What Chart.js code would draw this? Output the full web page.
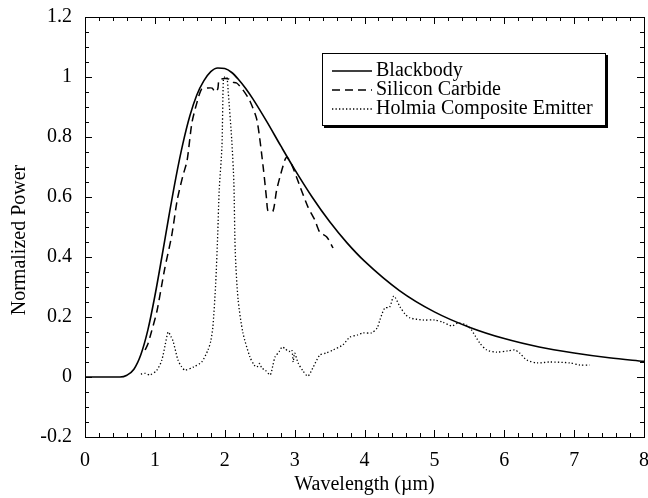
<!DOCTYPE html>
<html>
<head>
<meta charset="utf-8">
<title>Normalized Power</title>
<script src="https://cdn.jsdelivr.net/npm/chart.js@4.4.1/dist/chart.umd.min.js"></script>
<style>
  html, body { margin: 0; padding: 0; background: #fff; }
  #wrap { width: 648px; height: 498px; }
</style>
</head>
<body>
<div id="wrap"><canvas id="chart" width="648" height="498"></canvas></div>
<script>
// Spectra, wavelength in um, power normalized to the emitter peak
const bbWave = [0, 0.5, 0.6, 0.7, 0.8, 0.9, 1.0, 1.1, 1.2, 1.3, 1.4, 1.5, 1.6, 1.7, 1.8, 1.9, 2.0,
  2.1, 2.2, 2.3, 2.4, 2.6, 2.8, 3.0, 3.25, 3.5, 3.75, 4.0, 4.5, 5.0, 5.5, 6.0, 6.5, 7.0, 7.5, 8.0];
const bbPower = [0, 0, 0.006, 0.026, 0.075, 0.157, 0.27, 0.40, 0.535, 0.664, 0.777, 0.87, 0.94, 0.987, 1.018, 1.03, 1.028,
  1.015, 0.991, 0.962, 0.928, 0.852, 0.771, 0.692, 0.60, 0.518, 0.447, 0.386, 0.288, 0.217, 0.166, 0.128, 0.10, 0.080, 0.064, 0.052];

const sicWave = [0.86, 0.9, 0.95, 1.03, 1.14, 1.24, 1.32, 1.40, 1.46, 1.53, 1.60, 1.67, 1.75, 1.82, 1.86, 1.90, 1.92,
  2.0, 2.06, 2.10, 2.17, 2.26, 2.36, 2.46, 2.55, 2.60, 2.62, 2.69, 2.74, 2.79, 2.86, 2.89, 2.96, 3.08, 3.19, 3.29,
  3.36, 3.46, 3.55];
const sicPower = [0.09, 0.11, 0.15, 0.22, 0.36, 0.47, 0.59, 0.67, 0.72, 0.847, 0.913, 0.96, 0.963, 0.963, 0.95, 0.96, 0.99,
  0.995, 0.993, 0.983, 0.98, 0.957, 0.92, 0.857, 0.70, 0.59, 0.553, 0.553, 0.62, 0.667, 0.723, 0.733, 0.707, 0.633, 0.567, 0.523,
  0.483, 0.467, 0.43];

const hoWave = [0.80, 0.86, 0.93, 1.03, 1.10, 1.15, 1.19, 1.23, 1.26, 1.33, 1.38, 1.43, 1.55, 1.67, 1.76, 1.80, 1.83,
  1.87, 1.90, 1.92, 1.96, 1.98, 2.00, 2.03, 2.05, 2.10, 2.13, 2.15, 2.19, 2.26, 2.36, 2.42, 2.46, 2.50, 2.53, 2.58,
  2.65, 2.69, 2.72, 2.78, 2.82, 2.86, 2.92, 2.96, 2.98, 3.00, 3.05, 3.12, 3.19, 3.26, 3.36, 3.45, 3.55, 3.69, 3.79,
  3.90, 3.98, 4.10, 4.18, 4.22, 4.29, 4.36, 4.42, 4.51, 4.58, 4.65, 4.84, 5.00, 5.12, 5.25, 5.34, 5.46, 5.53, 5.65,
  5.75, 5.89, 6.05, 6.15, 6.22, 6.32, 6.47, 6.65, 6.94, 7.08, 7.22];
const hoPower = [0.01, 0.012, 0.007, 0.023, 0.057, 0.11, 0.15, 0.135, 0.12, 0.057, 0.035, 0.023, 0.033, 0.05, 0.09, 0.12, 0.167,
  0.31, 0.48, 0.62, 0.77, 0.99, 1.0, 1.0, 0.95, 0.79, 0.65, 0.42, 0.26, 0.147, 0.067, 0.04, 0.033, 0.045, 0.03, 0.023,
  0.007, 0.04, 0.067, 0.085, 0.10, 0.095, 0.085, 0.09, 0.05, 0.08, 0.047, 0.02, 0.003, 0.03, 0.073, 0.08, 0.09, 0.107, 0.133,
  0.14, 0.147, 0.147, 0.163, 0.19, 0.23, 0.233, 0.27, 0.233, 0.21, 0.197, 0.19, 0.19, 0.183, 0.17, 0.18, 0.173, 0.157, 0.113,
  0.09, 0.083, 0.087, 0.09, 0.08, 0.057, 0.047, 0.05, 0.047, 0.04, 0.04];

const seriesNames = ['Blackbody', 'Silicon Carbide', 'Holmia Composite Emitter'];
const xTitle = 'Wavelength (\u00b5m)';
const yTitle = 'Normalized Power';

const FONT = "'Liberation Serif', 'Times New Roman', serif";
const pts = (xs, ys) => xs.map((x, i) => ({ x, y: ys[i] }));

// 1, 0.8, 0 ... instead of 1.0, 0.8, -0.0
const plainNum = v => {
  const r = Math.round(v * 100) / 100;
  return String(r === 0 ? 0 : r);
};

// inward ticks on all four sides plus the closed frame
const frameTicks = {
  id: 'frameTicks',
  afterDraw(chart) {
    const { ctx, chartArea: a, scales: { x, y } } = chart;
    ctx.save();
    ctx.strokeStyle = '#000';
    ctx.lineWidth = 1;
    ctx.strokeRect(Math.round(a.left) + 0.5, Math.round(a.top) + 0.5,
      Math.round(a.right - a.left), Math.round(a.bottom - a.top));
    ctx.beginPath();
    for (let i = 0; i <= 40; i++) {
      const px = Math.round(x.getPixelForValue(i * 0.2)) + 0.5;
      const len = i % 5 === 0 ? 7 : 4;
      ctx.moveTo(px, a.bottom); ctx.lineTo(px, a.bottom - len);
      ctx.moveTo(px, a.top); ctx.lineTo(px, a.top + len);
    }
    for (let i = 0; i <= 28; i++) {
      const py = Math.round(y.getPixelForValue(-0.2 + i * 0.05)) + 0.5;
      const len = i % 4 === 0 ? 7 : 4;
      ctx.moveTo(a.left, py); ctx.lineTo(a.left + len, py);
      ctx.moveTo(a.right, py); ctx.lineTo(a.right - len, py);
    }
    ctx.stroke();

    // y title, set a little below the middle of the axis
    ctx.fillStyle = '#000';
    ctx.font = '20px ' + FONT;
    ctx.textAlign = 'center';
    ctx.textBaseline = 'middle';
    ctx.translate(20, 240);
    ctx.rotate(-Math.PI / 2);
    ctx.fillText(yTitle, 0, 0);
    ctx.restore();
  }
};

// boxed legend with a drop shadow, top right of the plot
const boxLegend = {
  id: 'boxLegend',
  afterDraw(chart) {
    const { ctx } = chart;
    const bx = 322, by = 53, bw = 284, bh = 73;
    ctx.save();
    ctx.fillStyle = '#000';
    ctx.fillRect(bx + 2, by + 2, bw, bh);
    ctx.fillStyle = '#fff';
    ctx.fillRect(bx, by, bw, bh);
    ctx.strokeStyle = '#000';
    ctx.lineWidth = 1;
    ctx.strokeRect(bx + 0.5, by + 0.5, bw - 1, bh - 1);
    ctx.font = '20px ' + FONT;
    ctx.textBaseline = 'middle';
    chart.data.datasets.forEach((ds, i) => {
      const ly = by + 18 + i * 19;
      ctx.beginPath();
      ctx.lineWidth = ds.borderWidth;
      ctx.setLineDash(ds.borderDash || []);
      ctx.moveTo(bx + 10, ly);
      ctx.lineTo(bx + 50, ly);
      ctx.stroke();
      ctx.setLineDash([]);
      ctx.fillStyle = '#000';
      ctx.fillText(ds.label, bx + 54, ly);
    });
    ctx.restore();
  }
};

new Chart(document.getElementById('chart'), {
  type: 'line',
  data: {
    datasets: [
      { label: seriesNames[0], data: pts(bbWave, bbPower), borderColor: '#000', borderWidth: 1.6,
        cubicInterpolationMode: 'monotone' },
      { label: seriesNames[1], data: pts(sicWave, sicPower), borderColor: '#000', borderWidth: 1.5,
        borderDash: [8, 5], tension: 0.25 },
      { label: seriesNames[2], data: pts(hoWave, hoPower), borderColor: '#000', borderWidth: 1.3,
        borderDash: [1.3, 2.2], tension: 0.25 }
    ]
  },
  options: {
    responsive: false,
    animation: false,
    layout: { padding: { top: 17, right: 4, left: 0, bottom: 0 } },
    elements: { point: { radius: 0 } },
    plugins: { legend: { display: false }, tooltip: { enabled: false } },
    scales: {
      x: {
        type: 'linear', min: 0, max: 8,
        ticks: { stepSize: 1, padding: 12, color: '#000', font: { family: FONT, size: 20 },
          callback: plainNum },
        grid: { display: false, drawTicks: false },
        border: { display: false },
        title: { display: true, text: xTitle, color: '#000', padding: { top: 0, bottom: 1 },
          font: { family: FONT, size: 20 } },
        afterFit(s) { s.height = 61; s.paddingLeft = 0; s.paddingRight = 0; }
      },
      y: {
        min: -0.2, max: 1.2,
        ticks: { stepSize: 0.2, padding: 13, color: '#000', font: { family: FONT, size: 20 },
          callback: plainNum },
        grid: { display: false, drawTicks: false },
        border: { display: false },
        afterFit(s) { s.width = 85; s.paddingTop = 0; s.paddingBottom = 0; }
      }
    }
  },
  plugins: [frameTicks, boxLegend]
});
</script>
</body>
</html>
